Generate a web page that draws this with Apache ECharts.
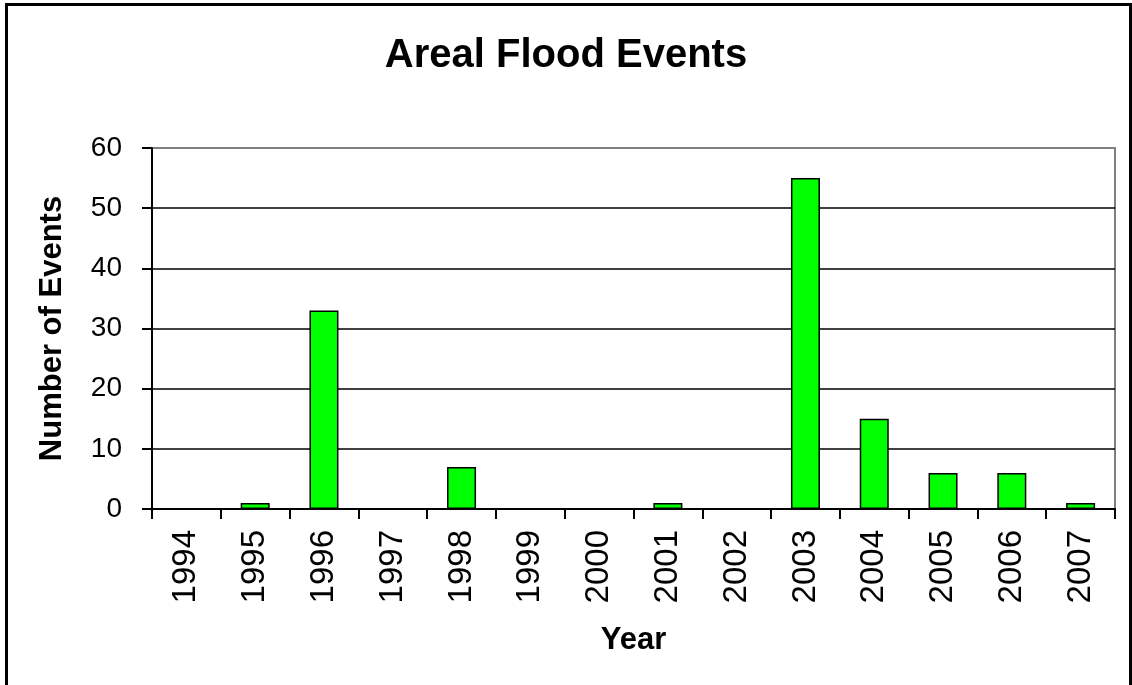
<!DOCTYPE html>
<html>
<head>
<meta charset="utf-8">
<script src="https://cdn.jsdelivr.net/npm/echarts@6/dist/echarts.min.js"></script>
<style>
html,body{margin:0;padding:0;background:#fff;}
#chart{width:1132px;height:685px;}
</style>
</head>
<body>
<div id="chart"></div>
<script>
const years = ['1994','1995','1996','1997','1998','1999','2000','2001','2002','2003','2004','2005','2006','2007'];
const events = [0, 1, 33, 0, 7, 0, 0, 1, 0, 55, 15, 6, 6, 1];
const yTicks = [0, 10, 20, 30, 40, 50, 60];

const chart = echarts.init(document.getElementById('chart'));
const font = 'Arial, "Liberation Sans", sans-serif';
chart.setOption({
  animation: false,
  backgroundColor: '#fff',
  title: {
    text: 'Areal Flood Events',
    left: 'center',
    top: 31,
    textStyle: { fontFamily: font, fontSize: 40, fontWeight: 'bold', color: '#000' }
  },
  graphic: [{
    type: 'rect',
    shape: { x: 6.5, y: 4.5, width: 1124, height: 700 },
    style: { fill: 'none', stroke: '#000', lineWidth: 3 },
    silent: true
  }],
  grid: {
    left: 152, right: 17, top: 148, bottom: 176,
    show: true, borderColor: '#808080', borderWidth: 2, backgroundColor: 'transparent'
  },
  xAxis: {
    type: 'category',
    data: years,
    boundaryGap: true,
    name: 'Year',
    nameLocation: 'middle',
    nameGap: 116,
    nameTextStyle: { fontFamily: font, fontSize: 31, fontWeight: 'bold', color: '#000' },
    axisLine: { lineStyle: { color: '#000', width: 2 } },
    axisTick: { show: true, alignWithLabel: false, length: 10, lineStyle: { color: '#000', width: 2 } },
    axisLabel: { rotate: 90, margin: 21, fontFamily: font, fontSize: 33, color: '#000', interval: 0 },
    splitLine: { show: false }
  },
  yAxis: {
    type: 'value',
    min: yTicks[0],
    max: yTicks[yTicks.length - 1],
    interval: 10,
    name: 'Number of Events',
    nameLocation: 'middle',
    nameGap: 84,
    nameTextStyle: { fontFamily: font, fontSize: 31, fontWeight: 'bold', color: '#000' },
    axisLine: { show: true, lineStyle: { color: '#000', width: 2 } },
    axisTick: { show: true, length: 10, lineStyle: { color: '#000', width: 2 } },
    axisLabel: { margin: 30, fontFamily: font, fontSize: 28, color: '#000' },
    splitLine: { show: true, lineStyle: { color: ['#000','#000','#000','#000','#000','#000','#808080'], width: 1.5 } }
  },
  series: [{
    type: 'bar',
    data: events,
    barWidth: 29,
    itemStyle: { color: '#00FF00', borderColor: '#000', borderWidth: 1.5 }
  }]
});
</script>
</body>
</html>
